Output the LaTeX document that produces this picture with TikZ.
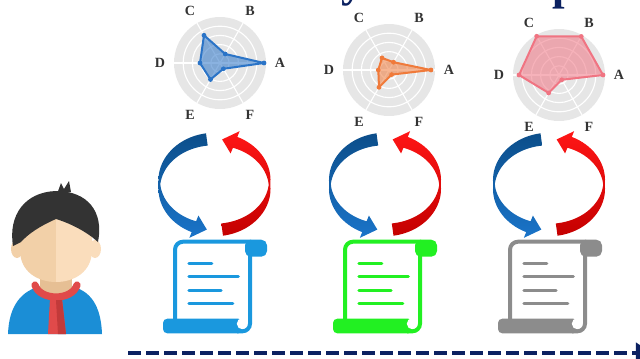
\documentclass[tikz,border=0pt]{standalone}
\usepackage{fontspec}
\setmainfont{Liberation Serif}
\usetikzlibrary{arrows.meta}
\definecolor{navy}{HTML}{0B2161}
\definecolor{diskgray}{HTML}{E6E6E6}
\definecolor{labelgray}{HTML}{333333}
\definecolor{polyblue}{HTML}{2B74C7}
\definecolor{polyorange}{HTML}{F07A3A}
\definecolor{polypink}{HTML}{F07482}
\definecolor{cycleblueA}{HTML}{0C4E8A}
\definecolor{cycleblueB}{HTML}{1A74C9}
\definecolor{cycleredA}{HTML}{FF1616}
\definecolor{cycleredB}{HTML}{C40000}
\definecolor{scrollblue}{HTML}{1A98DE}
\definecolor{scrollgreen}{HTML}{22F022}
\definecolor{scrollgray}{HTML}{8C8C8C}
\definecolor{shirt}{HTML}{1B8ED6}
\definecolor{scarf}{HTML}{E04A4A}
\definecolor{scarfdark}{HTML}{C23A3A}
\definecolor{skinL}{HTML}{F2D0A8}
\definecolor{skinR}{HTML}{FADDBC}
\definecolor{neck}{HTML}{E6BF94}
\definecolor{hair}{HTML}{333333}

\begin{document}
\begin{tikzpicture}[x=0.025cm, y=-0.025cm,
    ring/.style={draw=white, line width=0.8pt},
    axis label/.style={text=labelgray, font=\bfseries, inner sep=0pt},
    poly/.style={draw=#1, fill=#1, fill opacity=0.55, line width=0.05cm, line join=round},
    time axis/.style={draw=navy, line width=0.1cm, dash pattern=on 0.33cm off 0.12cm, -{Triangle[length=0.4cm, width=0.5cm]}},
    pics/radar/.style={code={
        \fill[diskgray] (0,0) circle (46);
        \foreach \r in {9.2,18.4,27.6,36.8} \draw[ring] (0,0) circle (\r);
        \foreach \a in {0,60,...,300} \draw[ring] (0,0) -- (\a:46);
        \foreach \a/\l in {0/A,-60/B,-120/C,180/D,120/E,60/F}
          \node[axis label] (-\l) at (\a:60) {\l};
    }},
    pics/refine cycle/.style={code={
        % left half, top to bottom
        \shade[top color=cycleblueA, bottom color=cycleblueB]
          plot[domain=262:112, samples=40, variable=\t] ({(55.75+5.5*abs(sin(\t)))*cos(\t)}, {(46.25+5.5*abs(sin(\t)))*sin(\t)})
          -- ({67*cos(112)}, {57.5*sin(112)}) -- ({55*cos(98)}, {45.5*sin(98)}) -- ({43*cos(112)}, {33.5*sin(112)})
          -- plot[domain=112:262, samples=40, variable=\t] ({(54.25-5.5*abs(sin(\t)))*cos(\t)}, {(44.75-5.5*abs(sin(\t)))*sin(\t)}) -- cycle;
        % right half, bottom to top
        \shade[top color=cycleredA, bottom color=cycleredB]
          plot[domain=82:-68, samples=40, variable=\t] ({(55.75+5.5*abs(sin(\t)))*cos(\t)}, {(46.25+5.5*abs(sin(\t)))*sin(\t)})
          -- ({67*cos(-68)}, {57.5*sin(-68)}) -- ({55*cos(-82)}, {45.5*sin(-82)}) -- ({43*cos(-68)}, {33.5*sin(-68)})
          -- plot[domain=-68:82, samples=40, variable=\t] ({(54.25-5.5*abs(sin(\t)))*cos(\t)}, {(44.75-5.5*abs(sin(\t)))*sin(\t)}) -- cycle;
    }},
    pics/scroll/.style={code={
        \draw[line width=0.1cm, line join=round] (0,78) -- (0,8) arc[start angle=180, end angle=270, radius=8] -- (76,0);
        \fill[rounded corners=4] (70,-2) rectangle (92,15);
        \fill[rounded corners=3] (-12,77) rectangle (67.4,91.6);
        \fill[white] (67.4,82) circle (5.6);
        \draw[line width=0.1cm] (75,12) -- (75,82) arc[start angle=0, end angle=90, radius=7.6] -- (62,89.6);
        \foreach \y/\l in {22/36.7,35/63.3,49/46,62/57.7}
          \draw[line width=0.085cm, line cap=round] (14,\y) -- (\l,\y);
    }}]
\useasboundingbox (0,0) rectangle (640,358);

% clipped heading letters along the top edge
\node[navy, font=\fontsize{32}{36}\selectfont\bfseries, anchor=base] (headY) at (353,-4) {y};
\node[navy, font=\fontsize{32}{36}\selectfont\bfseries, anchor=base] (headP) at (565,-1) {p};

% radar charts
\pic (r1) at (220,63) {radar};
\pic (r2) at (389,70) {radar};
\pic (r3) at (559,75) {radar};

\begin{scope}[shift={(220,63)}]
  \draw[poly=polyblue] (0:44) -- (-60:10.4) -- (-120:32) -- (180:20) -- (120:19) -- (60:6.7) -- cycle;
  \foreach \a/\r in {0/44,-60/10.4,-120/32,180/20,120/19,60/6.7} \fill[polyblue] (\a:\r) circle (2.4);
\end{scope}
\begin{scope}[shift={(389,70)}]
  \draw[poly=polyorange] (0:42) -- (-60:9) -- (-120:14) -- (180:10.7) -- (120:20) -- (60:5.3) -- cycle;
  \foreach \a/\r in {0/42,-60/9,-120/14,180/10.7,120/20,60/5.3} \fill[polyorange] (\a:\r) circle (2.4);
\end{scope}
\begin{scope}[shift={(559,75)}]
  \draw[poly=polypink] (0:44) -- (-60:44.5) -- (-120:44.7) -- (180:40) -- (120:20.7) -- (60:5.5) -- cycle;
  \foreach \a/\r in {0/44,-60/44.5,-120/44.7,180/40,120/20.7,60/5.5} \fill[polypink] (\a:\r) circle (2.4);
\end{scope}

% feedback loops
\pic (c1) at (214.5,184.5) {refine cycle};
\pic (c2) at (385,184.5) {refine cycle};
\pic (c3) at (549,184.5) {refine cycle};

% documents
\pic[scrollblue] (s1) at (175,241.7) {scroll};
\pic[scrollgreen] (s2) at (345,241.7) {scroll};
\pic[scrollgray] (s3) at (510,241.7) {scroll};

% person
\fill[shirt] (8,334) .. controls (9,305) and (22,290) .. (42,286) -- (70,286) .. controls (90,290) and (101,305) .. (102,334) -- cycle;
\fill[neck] (40,262) rectangle (72,294);
\fill[skinL] (17,249) ellipse[x radius=6, y radius=9];
\fill[skinR] (95,249) ellipse[x radius=6, y radius=9];
\fill[skinL] (20,215) -- (20,250) .. controls (20,272) and (38,282) .. (56,282) -- (56,215) -- cycle;
\fill[skinR] (56,215) -- (56,282) .. controls (74,282) and (92,272) .. (92,250) -- (92,215) -- cycle;
\fill[hair] (13,246) .. controls (8,215) and (25,192) .. (56,191) .. controls (88,191) and (104,212) .. (98,242)
  -- (92,237) .. controls (80,228) and (66,222) .. (56,219) .. controls (40,226) and (28,234) .. (21,242) -- cycle;
\fill[hair] (57,194) -- (61,183) -- (64,189) -- (69,181) -- (71,192) -- cycle;
\draw[scarf, line width=0.18cm, line cap=round] (35,285) .. controls (40,301) and (72,301) .. (77,285);
\fill[scarf] (50,298) -- (62,298) -- (66,334) -- (48,334) -- cycle;
\fill[scarfdark] (56,300) -- (62,300) -- (66,334) -- (58,334) -- cycle;

% time line
\coordinate (timeS) at (128,353);
\coordinate (timeE) at (652,353);
\draw[time axis] (timeS) -- (timeE);
\end{tikzpicture}
\end{document}
